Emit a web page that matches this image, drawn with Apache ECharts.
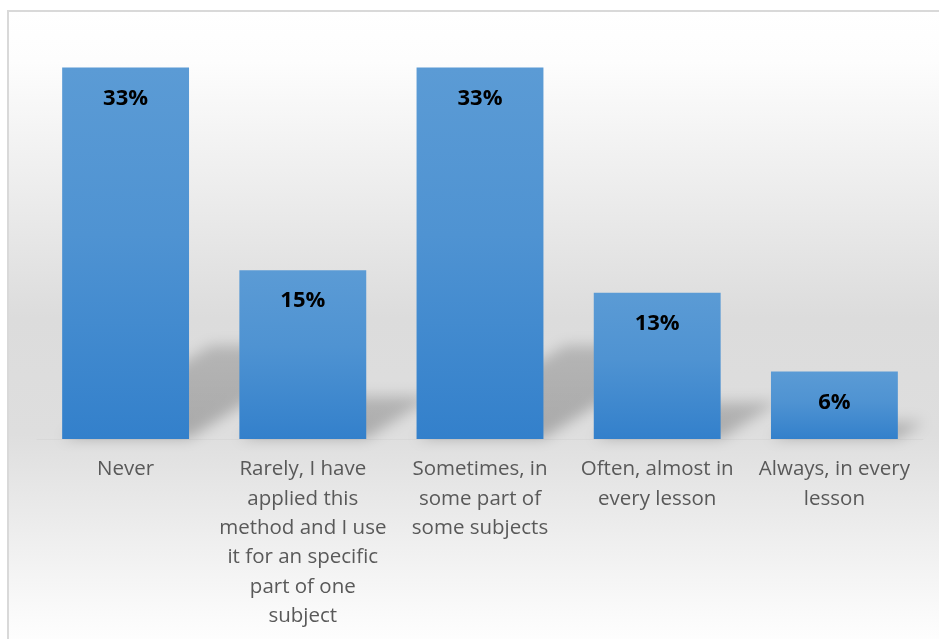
<!DOCTYPE html>
<html>
<head>
<meta charset="utf-8">
<script src="https://cdn.jsdelivr.net/npm/echarts@6/dist/echarts.min.js"></script>
<style>
  html, body { margin: 0; padding: 0; background: #ffffff; }
  #chart { width: 939px; height: 639px; }
</style>
</head>
<body>
<div id="chart"></div>
<script>
// Survey answers: how often the method is used
const categories = [
  'Never',
  'Rarely, I have\napplied this\nmethod and I use\nit for an specific\npart of one\nsubject',
  'Sometimes, in\nsome part of\nsome subjects',
  'Often, almost in\nevery lesson',
  'Always, in every\nlesson'
];
const percentages = [33, 15, 33, 13, 6];

const BAR_RATIO = 0.716;
const FONT = '"Open Sans", "Noto Sans", sans-serif';

const chart = echarts.init(document.getElementById('chart'), null, { renderer: 'canvas' });

// Perspective shadow cast by each bar onto the floor, up and to the right
function renderShadow(params, api) {
  const i = api.value(0);
  const v = api.value(1);
  const base = api.coord([i, 0]);
  const top = api.coord([i, v]);
  const h = base[1] - top[1];
  const bw = api.size([1, 0])[0] * BAR_RATIO;
  const xl = base[0] - bw / 2;
  const xr = base[0] + bw / 2;
  const y0 = base[1] - 1;
  const dx = 0.4 * h;
  const dy = 0.25 * h;
  const OFF = 2000;
  return {
    type: 'polygon',
    shape: {
      points: [
        [xl + OFF, y0],
        [xr + OFF, y0],
        [xr + dx + OFF, y0 - dy],
        [xl + dx + OFF, y0 - dy]
      ]
    },
    style: {
      fill: new echarts.graphic.LinearGradient(0, 1, 0, 0, [
        { offset: 0, color: 'rgba(0,0,0,1)' },
        { offset: 1, color: 'rgba(0,0,0,0.75)' }
      ]),
      shadowColor: 'rgba(0,0,0,0.24)',
      shadowBlur: 14,
      shadowOffsetX: -OFF,
      shadowOffsetY: 0
    }
  };
}

const option = {
  animation: false,
  graphic: [
    {
      type: 'rect',
      z: -10,
      silent: true,
      shape: { x: 8, y: 11, width: 940, height: 640 },
      style: {
        fill: new echarts.graphic.LinearGradient(0, 0, 0, 1, [
          { offset: 0, color: '#ffffff' },
          { offset: 0.08, color: '#fdfdfd' },
          { offset: 0.3, color: '#ebebeb' },
          { offset: 0.48, color: '#dcdcdc' },
          { offset: 0.66, color: '#dedede' },
          { offset: 0.8, color: '#ececec' },
          { offset: 0.95, color: '#fbfbfb' },
          { offset: 1, color: '#ffffff' }
        ]),
        stroke: '#d9d9d9',
        lineWidth: 2
      }
    }
  ],
  grid: { left: 37, right: 16, top: 45, bottom: 200 },
  xAxis: {
    type: 'category',
    data: categories,
    axisTick: { show: false },
    axisLine: { show: true, lineStyle: { color: '#d8d8d8', width: 1 } },
    axisLabel: {
      interval: 0,
      margin: 16,
      color: '#595959',
      fontFamily: FONT,
      fontSize: 20.5,
      lineHeight: 29.3
    }
  },
  yAxis: {
    type: 'value',
    min: 0,
    max: 35,
    show: false,
    splitLine: { show: false }
  },
  series: [
    {
      type: 'custom',
      z: 1,
      silent: true,
      renderItem: renderShadow,
      data: percentages.map((v, i) => [i, v]),
      encode: { x: 0, y: 1 }
    },
    {
      type: 'bar',
      z: 5,
      data: percentages,
      barWidth: (BAR_RATIO * 100) + '%',
      itemStyle: {
        color: new echarts.graphic.LinearGradient(0, 0, 0, 1, [
          { offset: 0, color: '#5b9bd5' },
          { offset: 0.45, color: '#4f93d2' },
          { offset: 1, color: '#3380cb' }
        ])
      },
      label: {
        show: true,
        position: 'insideTop',
        distance: 20,
        formatter: '{c}%',
        color: '#000000',
        fontWeight: 'bold',
        fontSize: 22,
        fontFamily: FONT
      }
    }
  ]
};

chart.setOption(option);
</script>
</body>
</html>
